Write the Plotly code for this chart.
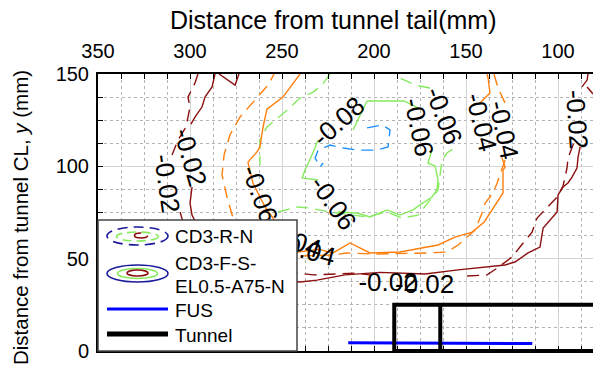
import plotly.graph_objects as go

# ---------------- data (mm) ----------------
# CD3-F-S-EL0.5-A75-N (solid contours)
fs_m002 = [(286.4,150),(288.0,143.0),(291.8,137.6),(293.5,132.1),(297.3,126.7),(299.5,122.9),(None,None),
           (298.9,88.8),(300.0,80.1),(298.9,73.6),(296.2,68.2),(286.4,54.7),(272.8,44.9),(256.5,39.0),
           (240.2,37.4),(231.0,38.4),(222.3,40.1),(215.8,41.2),(196.7,42.6),(172.3,41.7),(154.3,43.9),
           (128.8,46.6),(123.4,48.2),(116.3,53.1),(109.8,56.3),(108.1,66.6),(100.5,75.3),(100.0,84.5),
           (97.3,88.8),(94.6,91.0),(92.4,94.2),(89.7,99.1),(89.1,105.1),(88.0,110.5),(None,None),
           (87.0,143.0),(84.2,146.7),(83.7,150),(None,None),
           (284.2,150),(279.3,146.7),(275.5,144.0),(273.4,150)]
fs_m004 = [(240.2,150),(249.5,137.5),(258.2,131.0),(260.3,121.3),(262.0,110.5),(263.6,107.8),(268.5,102.3),
           (265.8,91.0),(259.2,78.0),(254.9,72.0),(248.4,60.1),(241.3,53.6),(230.0,55.0),(222.3,53.1),
           (213.0,58.5),(202.2,53.1),(185.9,53.6),(172.3,56.3),(165.2,57.4),(156.0,61.7),(146.7,64.4),
           (140.1,69.9),(134.2,79.1),(129.9,85.6),(129.9,98.0),(128.8,99.6),(130.4,104.5),(None,None),
           (142.4,134.3),(137.0,139.7),(138.0,147.8),(138.6,150)]
fs_m006 = [(203.8,135.4),(183.7,135.4),(176.1,131.6),(None,None),(168.5,108.8),(170.7,101.8),(166.8,100.2),
           (165.2,92.6),(165.8,87.2),(168.5,83.4),(175.0,79.1),(178.8,76.4),(185.9,73.6),(192.9,76.4),
           (202.2,72.6),(209.2,74.7),(219.6,75.3),(None,None),(230.4,92.6),(239.1,93.7),(237.5,98.0),
           (233.7,106.1),(230.4,114.3),(None,None),(211.4,119.7),(203.8,135.4)]

# CD3-R-N (dashed contours)
rn_m002 = [(295.7,150),(297.3,145.1),(301.1,137.5),(300.0,132.1),(302.2,121.3),(306.5,114.3),(309.8,106.1),
           (None,None),(305.4,75.3),(303.8,69.9),(294.6,54.7),(272.8,44.9),(241.3,42.2),(233.1,41.2),
           (210.3,42.2),(202.2,41.2),(None,None),(149.4,40.6),(138.6,41.2),(133.1,44.9),(125.0,50.9),
           (120.7,56.3),(114.1,64.4),(111.4,72.0),(105.4,78.0),(100.0,83.9),(97.3,89.3),(95.1,99.1),
           (94.6,104.5),(90.8,114.3),(None,None),(84.2,143.0),(81.0,139.2)]
rn_m004 = [(134.8,150),(132.6,142.4),(128.8,134.3),(None,None),(128.8,103.4),(131.5,95.3),(133.1,91.0),
           (135.3,85.6),(139.6,80.1),(141.3,74.7),(145.1,65.5),(154.3,57.4),(160.3,53.6),(170.7,53.1),
           (199.5,52.5),(214.7,53.1),(222.3,52.0),(240.2,51.4),(251.1,53.6),(267.4,60.1),(276.6,72.0),
           (279.9,83.4),(282.6,95.3),(281.5,106.1),(278.3,117.0),(272.8,126.7),(264.7,135.9),(257.6,144.0),
           (254.3,150)]
rn_m006 = [(223.9,150),(228.3,144.0),(233.1,140.2),(240.2,137.0),(248.4,129.4),(253.8,125.1),(258.2,121.3),
           (262.0,114.3),(262.0,100.7),(None,None),(252.2,75.3),(241.8,78.0),(234.8,77.4),(223.9,75.3),
           (211.4,73.6),(203.8,72.6),(192.9,75.3),(184.8,72.0),(176.1,73.6),(170.7,80.1),(165.2,87.2),
           (164.1,95.3),(163.0,103.4),(160.3,107.2),(154.3,111.5),(None,None),(169.6,142.4),(177.7,144.0),
           (185.9,147.8),(188.6,150)]
rn_m008 = [(203.8,120.8),(195.7,122.4),(191.3,119.7),(192.4,110.5),(198.4,108.8),(209.2,108.8),(216.8,109.9),
           (223.9,111.5),(230.4,108.8),(232.0,104.5),(229.3,99.6),(227.7,101.8)]

# contour labels
label_text  = ["-0.02", "-0.04", "-0.04", "-0.06", "-0.06", "-0.08", "-0.06", "-0.06",
               "-0.02", "-0.02", "-0.04", "-0.04", "-0.02", "-0.02"]
label_x     = [88.6, 140.6, 128.3, 174.6, 161.0, 220.1, 221.2, 261.0, 298.7, 311.4, 244.0, 236.4, 192.4, 172.5]
label_y     = [125.5, 124.2, 120.0, 121.5, 127.8, 125.1, 80.8, 85.4, 105.2, 90.8, 61.2, 55.8, 38.4, 37.4]
label_angle = [86, 76, 78, 78, 69, -42, 55, 70, 74, 82, 20, 15, 0, 0]

# FUS and tunnel
fus_x = [214, 114]
fus_y = [4.5, 4.0]
tunnel_x = [40, 189, 189, 40, None, 164, 164]
tunnel_y = [25, 25, 0, 0, None, 0, 25]

x_ticks = [350, 300, 250, 200, 150, 100]
y_ticks = [0, 50, 100, 150]

# ---------------- styling ----------------
FONT = "Liberation Sans, Arial, sans-serif"
DARKRED = "#8b0f0f"
ORANGE = "#ff7f0e"
GREEN = "#86ea5e"
BLUE = "#1e90ff"
NAVY = "#1a1a9a"
DASH = "12px,7px"

W, H = 593, 365
L, R, T, B = 98, 593, 74, 351


def px(x):
    return (x - L) / (R - L)


def py(y):
    return (B - y) / (B - T)


fig = go.Figure()


def add_contour(pts, color, dash):
    xs = [p[0] for p in pts]
    ys = [p[1] for p in pts]
    fig.add_trace(go.Scatter(x=xs, y=ys, mode="lines", connectgaps=False,
                             line=dict(color=color, width=1.4, dash=dash),
                             showlegend=False, hoverinfo="skip"))


add_contour(rn_m002, DARKRED, DASH)
add_contour(rn_m004, ORANGE, DASH)
add_contour(rn_m006, GREEN, DASH)
add_contour(rn_m008, BLUE, DASH)
add_contour(fs_m002, DARKRED, "solid")
add_contour(fs_m004, ORANGE, "solid")
add_contour(fs_m006, GREEN, "solid")

fig.add_trace(go.Scatter(x=fus_x, y=fus_y, mode="lines", line=dict(color="#0000ff", width=3),
                         showlegend=False, hoverinfo="skip"))
fig.add_trace(go.Scatter(x=tunnel_x, y=tunnel_y, mode="lines", connectgaps=False,
                         line=dict(color="black", width=4), showlegend=False, hoverinfo="skip"))

shapes = []
# contour labels as shape labels (so the legend box can cover them)
for t, lx, ly, a in zip(label_text, label_x, label_y, label_angle):
    shapes.append(dict(type="line", xref="x", yref="y", x0=lx, x1=lx, y0=ly, y1=ly,
                       line=dict(color="rgba(0,0,0,0)", width=0), layer="above",
                       label=dict(text=t, textangle=a, textposition="middle",
                                  xanchor="center", yanchor="middle", padding=0,
                                  font=dict(family=FONT, size=26, color="black"))))

# legend box
shapes.append(dict(type="rect", xref="paper", yref="paper", x0=px(98), x1=px(297), y0=py(351), y1=py(220),
                   fillcolor="white", line=dict(color="#444444", width=1.5), layer="above"))


def ellipse(cx, cy, rx, ry, color, dash, width=1.6):
    shapes.append(dict(type="circle", xref="paper", yref="paper",
                       x0=px(cx - rx), x1=px(cx + rx), y0=py(cy + ry), y1=py(cy - ry),
                       line=dict(color=color, width=width, dash=dash), layer="above"))


ellipse(137.5, 236, 30.5, 9, NAVY, "10px,6px")
ellipse(137.5, 236.5, 21, 4.5, GREEN, "9px,5px")
ellipse(141, 235.5, 6.5, 2.5, DARKRED, "22px,10px")
ellipse(137.5, 273.5, 30.5, 8.5, NAVY, "solid")
ellipse(137.5, 273.5, 20, 5, GREEN, "solid")
ellipse(137.5, 273, 10.5, 3, DARKRED, "solid")
shapes.append(dict(type="line", xref="paper", yref="paper", x0=px(107), x1=px(168), y0=py(309), y1=py(309),
                   line=dict(color="#0000ff", width=3), layer="above"))
shapes.append(dict(type="line", xref="paper", yref="paper", x0=px(107), x1=px(168), y0=py(334), y1=py(334),
                   line=dict(color="black", width=5), layer="above"))

annotations = []
for txt, ypix in [("CD3-R-N", 237), ("CD3-F-S-", 263), ("EL0.5-A75-N", 286), ("FUS", 310), ("Tunnel", 335)]:
    annotations.append(dict(text=txt, xref="paper", yref="paper", x=px(173), y=py(ypix),
                            xanchor="left", yanchor="middle", showarrow=False,
                            font=dict(family=FONT, size=19, color="black")))

annotations.append(dict(text="Distance from tunnel tail(mm)", xref="paper", yref="paper",
                        x=px(333), y=py(20), xanchor="center", yanchor="middle", showarrow=False,
                        font=dict(family=FONT, size=25, color="black")))
annotations.append(dict(text="Distance from tunnel CL, <i>y</i> (mm)", xref="paper", yref="paper",
                        x=px(20), y=py(218), xanchor="center", yanchor="middle", showarrow=False,
                        textangle=-90, font=dict(family=FONT, size=20.5, color="black")))

axis_common = dict(
    ticks="inside", ticklen=5, tickwidth=1, tickcolor="black",
    showline=True, linecolor="black", linewidth=2,
    showgrid=True, gridcolor="#d4d4d4", gridwidth=1, zeroline=False,
    tickfont=dict(family=FONT, size=20, color="black"),
    minor=dict(dtick=12.5, ticks="inside", ticklen=5, tickwidth=1, tickcolor="black",
               showgrid=True, gridcolor="#b4b4b4", griddash="dot", gridwidth=1),
)

fig.update_layout(
    width=W, height=H,
    margin=dict(l=L, r=W - R, t=T, b=H - B, autoexpand=False),
    paper_bgcolor="white", plot_bgcolor="white",
    showlegend=False,
    xaxis=dict(range=[350, 81], side="top", tickmode="array", tickvals=x_ticks,
               mirror="ticks", ticklabelstandoff=6, **axis_common),
    yaxis=dict(range=[0, 150], tickmode="array", tickvals=y_ticks,
               mirror=False, ticklabelstandoff=3, **axis_common),
    shapes=shapes,
    annotations=annotations,
)

fig.write_html("out.html", config={"displayModeBar": False},
               post_script="document.body.style.margin='0px';document.body.style.padding='0px';"
                           "document.body.style.overflow='hidden';")
